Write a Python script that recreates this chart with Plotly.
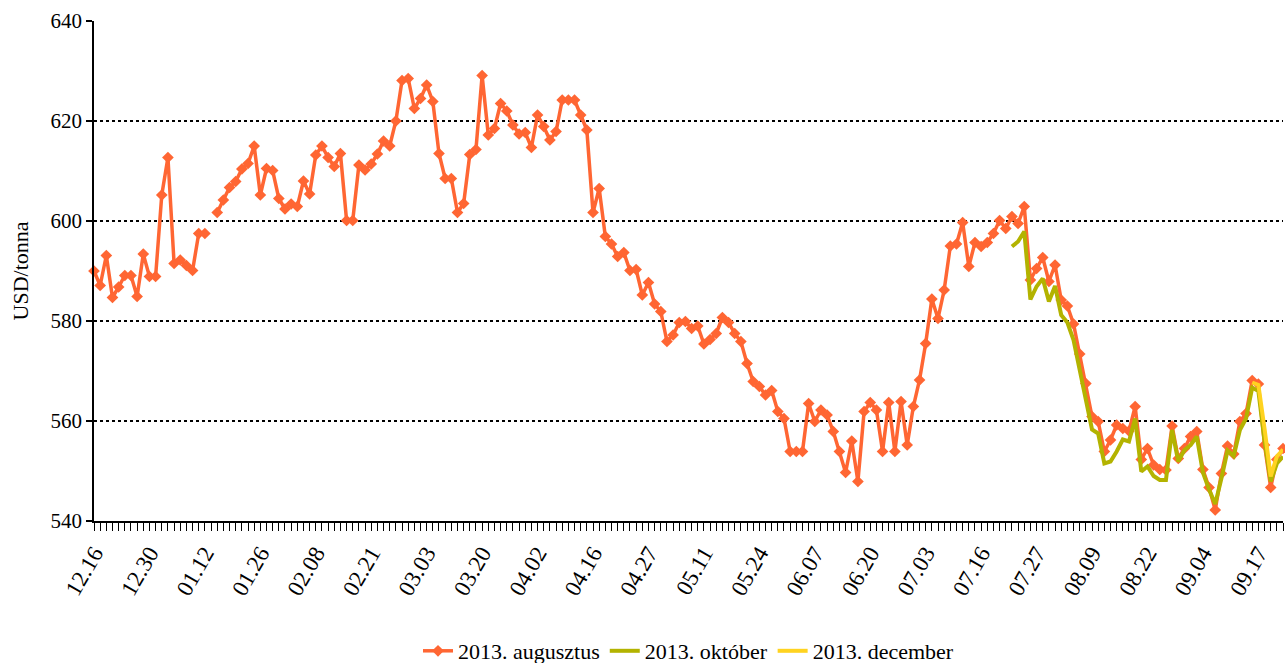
import plotly.graph_objects as go

# Tick labels (every 9th trading day)
tick_labels = ["12.16", "12.30", "01.12", "01.26", "02.08", "02.21", "03.03", "03.20",
               "04.02", "04.16", "04.27", "05.11", "05.24", "06.07", "06.20", "07.03",
               "07.16", "07.27", "08.09", "08.22", "09.04", "09.17"]
label_step = 9

aug = [590, 587.1, 593.1, 584.7, 586.8, 589.1, 589.1, 584.9, 593.4, 588.9,
       588.9, 605.2, 612.7, 591.5, 592.2, 591.1, 590.1, 597.5, 597.5, None,
       601.7, 604.2, 606.7, 607.9, 610.4, 611.5, 615, 605.2, 610.5, 610.1,
       604.5, 602.4, 603.4, 602.9, 608, 605.4, 613.2, 615, 612.7, 610.9,
       613.5, 600.1, 600.1, 611.2, 610.2, 611.4, 613.4, 616, 615, 620,
       628.1, 628.5, 622.5, 624.5, 627.2, 623.9, 613.5, 608.5, 608.5, 601.7,
       603.5, 613.3, 614.3, 629.1, 617.2, 618.5, 623.5, 622, 619.2, 617.4,
       617.7, 614.7, 621.2, 618.9, 616.2, 617.9, 624.2, 624.2, 624.2, 621.2,
       618.2, 601.7, 606.5, 596.9, 595.4, 592.9, 593.7, 590.1, 590.3, 585.2,
       587.7, 583.4, 581.9, 575.9, 577.2, 579.7, 579.9, 578.5, 579, 575.4,
       576.3, 577.5, 580.7, 579.7, 577.5, 575.9, 571.5, 567.9, 566.9, 565.2,
       566.1, 561.9, 560.5, 553.9, 553.9, 553.9, 563.5, 559.9, 562.2, 561.2,
       557.9, 553.9, 549.7, 556, 547.9, 561.9, 563.7, 562.2, 553.9, 563.7,
       553.9, 563.9, 555.2, 562.9, 568.2, 575.5, 584.4, 580.5, 586.2, 595,
       595.4, 599.7, 590.9, 595.7, 594.9, 595.7, 597.5, 600.1, 598.5, 600.9,
       599.5, 602.9, 588.2, 590.5, 592.7, 587.9, 591.2, 584.2, 583, 579.4,
       573.4, 567.5, 560.9, 559.9, 553.9, 556.2, 559.2, 558.5, 558, 562.9,
       552.3, 554.5, 551.2, 550.3, 550.2, 559, 552.5, 554.5, 556.9, 557.9,
       550.3, 546.7, 542.2, 549.5, 555, 553.4, 559.9, 561.5, 568.1, 567.4,
       555.2, 546.7, 552.3, 554.5]

okt_start = 149
okt = [594.9, 595.9, 597.9, 584.3, 586.9, 588.5, 583.9, 587, 581.2, 579.7,
       576.2, 570.2, 564.2, 558.3, 557.5, 551.5, 551.9, 553.9, 556.3, 555.9,
       560.5, 549.9, 550.9, 549, 548.2, 548.2, 558.2, 551.9, 554.2, 555.2,
       556.9, 549.7, 546.3, 543.4, 548.5, 554.1, 553, 558.2, 560.5, 566.7,
       566, 556, 547.9, 551.5, 552.9]

dec_start = 188
dec = [567.7, 567.2, 558.5, 548.9, 552.9, 554.3]

n = len(aug)
x_all = list(range(n))
font_family = "Liberation Serif, Times New Roman, serif"

fig = go.Figure()
fig.add_trace(go.Scatter(
    x=x_all, y=aug, mode="lines+markers", name="2013. augusztus",
    line=dict(color="#FF6633", width=3.5),
    marker=dict(symbol="diamond", size=9, color="#FF6633"),
    connectgaps=False, cliponaxis=False))
fig.add_trace(go.Scatter(
    x=list(range(okt_start, okt_start + len(okt))), y=okt, mode="lines",
    name="2013. október", line=dict(color="#B3B300", width=4), cliponaxis=False))
fig.add_trace(go.Scatter(
    x=list(range(dec_start, dec_start + len(dec))), y=dec, mode="lines",
    name="2013. december", line=dict(color="#FFD320", width=4), cliponaxis=False))

tickvals = x_all
ticktext = [tick_labels[i // label_step] if i % label_step == 0 and i // label_step < len(tick_labels) else ""
            for i in x_all]

fig.update_layout(
    width=1285, height=663,
    margin=dict(l=94, r=2, t=21, b=142, autoexpand=False),
    paper_bgcolor="white", plot_bgcolor="white",
    font=dict(family=font_family, size=20, color="black"),
    showlegend=True,
    legend=dict(orientation="h", x=0.5, xanchor="center", y=-0.26, yanchor="middle",
                font=dict(size=22), itemwidth=30, tracegroupgap=0),
    xaxis=dict(range=[0, n - 1], tickmode="array", tickvals=tickvals, ticktext=ticktext,
               tickangle=-60, ticks="outside", ticklen=8, tickwidth=1.3, tickcolor="black",
               showline=True, linecolor="black", linewidth=1.5, showgrid=False, zeroline=False,
               tickfont=dict(size=23)),
    yaxis=dict(range=[540, 640], dtick=20, ticks="outside", ticklen=6, tickcolor="black",
               tickwidth=1.5, showline=True, linecolor="black", linewidth=1.5,
               showgrid=True, gridcolor="black", griddash="dot", gridwidth=1.5,
               zeroline=False, title=dict(text="USD/tonna", standoff=16, font=dict(size=22)),
               tickfont=dict(size=21)),
)

fig.write_html("out.html", config={"displayModeBar": False},
               post_script="document.body.style.margin='0px';")
